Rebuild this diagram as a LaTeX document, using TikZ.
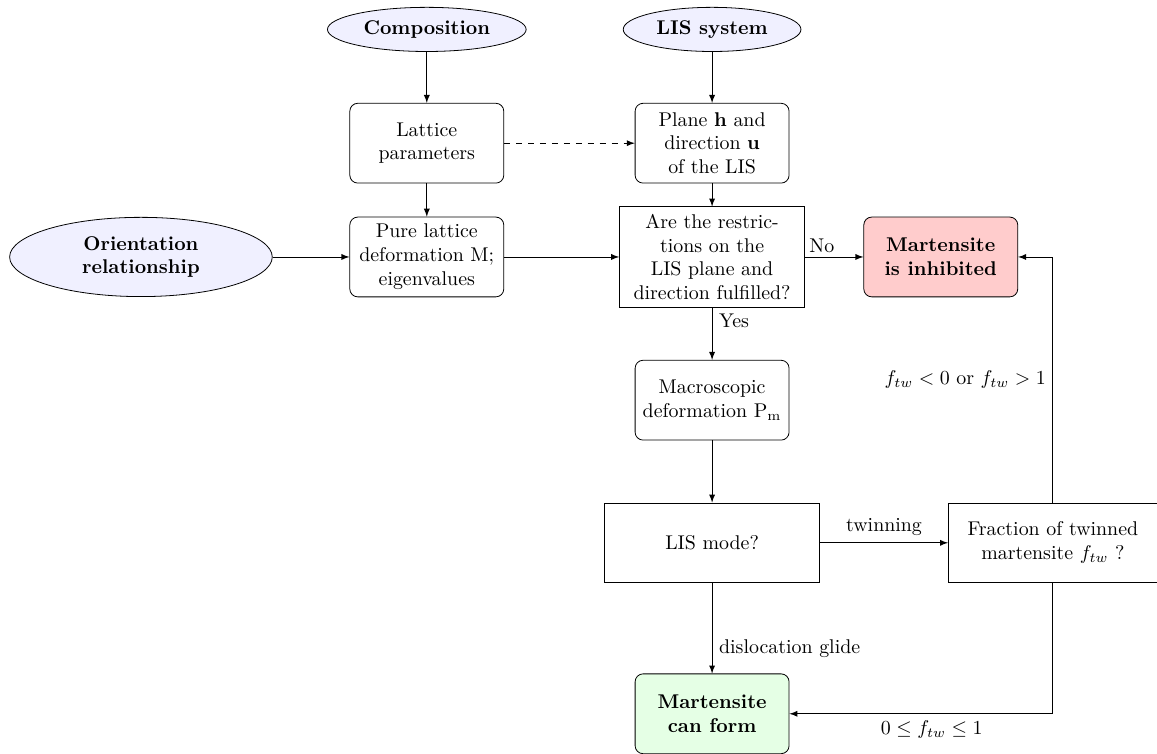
\documentclass[tikz,border=0pt]{standalone}
\usepackage{amsmath,amssymb}
\usepackage{xcolor}
\usepackage{tikz}
\usetikzlibrary{arrows.meta}
\usetikzlibrary{arrows,positioning,shapes,shapes.geometric,calc}
\tikzset{
	>=latex,
	block/.style = {
			rectangle,
			draw,
			rounded corners,
			align           = center,
			minimum width   = 2.72cm,
			minimum height  = 1.41cm,
			inner sep       = 2pt,
		},
	decision/.style = {
			rectangle,
			draw,
			align           = center,
			minimum height  = 1.41cm,
			inner sep       = 2pt,
		},
	input/.style = {
			ellipse,
			draw,
			fill            = blue!6,
			align           = center,
			font            = \bfseries,
			inner sep       = 1pt,
		},
	stopbox/.style = {block, fill = red!20, font = \bfseries},
	goodbox/.style = {block, fill = green!10, font = \bfseries},
}

\begin{document}
\begin{tikzpicture}
		\useasboundingbox (0,0) rectangle (20.44,13.32);

		% inputs
		\node[input, minimum width=3.51cm, minimum height=0.78cm] (Composition) at (7.54,12.80) {Composition};
		\node[input, minimum width=3.14cm, minimum height=0.78cm] (LIS) at (12.58,12.80) {LIS system};
		\node[input, minimum width=4.64cm, minimum height=1.40cm] (Orientation) at (2.49,8.78) {Orientation\\relationship};

		% steps
		\node[block] (Lattice) at (7.54,10.79) {Lattice\\parameters};
		\node[block] (Plane) at (12.58,10.79) {Plane $\mathbf{h}$ and\\direction $\mathbf{u}$\\of the LIS};
		\node[block] (Pure) at (7.54,8.78) {Pure lattice\\deformation M;\\eigenvalues};
		\node[decision, minimum width=3.27cm, minimum height=1.77cm] (Restrictions) at (12.58,8.78)
		{Are the restric-\\tions on the\\LIS plane and\\direction fulfilled?};
		\node[stopbox] (Inhibited) at (16.62,8.78) {Martensite\\is inhibited};
		\node[block] (Macro) at (12.58,6.25) {Macroscopic\\deformation $\mathrm{P_m}$};
		\node[decision, minimum width=3.80cm] (Mode) at (12.58,3.73) {LIS mode?};
		\node[decision, minimum width=3.69cm] (Fraction) at (18.60,3.73) {Fraction of twinned\\martensite $f_{tw}$ ?};
		\node[goodbox] (Form) at (12.58,0.71) {Martensite\\can form};

		% connections
		\draw[->] (Composition) -- (Lattice);
		\draw[->] (LIS) -- (Plane);
		\draw[->, dashed] (Lattice) -- (Plane);
		\draw[->] (Lattice) -- (Pure);
		\draw[->] (Plane) -- (Restrictions);
		\draw[->] (Orientation) -- (Pure);
		\draw[->] (Pure) -- (Restrictions);
		\draw[->] (Restrictions) -- (Inhibited) node[pos=0, above right, inner sep=2pt] {No};
		\draw[->] (Restrictions) -- (Macro) node[pos=0.25, right] {Yes};
		\draw[->] (Macro) -- (Mode);
		\draw[->] (Mode) -- (Fraction) node[midway, above] {twinning};
		\draw[->] (Mode) -- (Form) node[pos=0.72, right] {dislocation glide};
		\draw[->] (Fraction.north) |- (Inhibited.east)
		node[pos=0.25, left] {$f_{tw} < 0$ or $f_{tw} > 1$};
		\draw[->] (Fraction.south) |- (Form.east)
		node[pos=0.73, below] {$0 \leq f_{tw} \leq 1$};
	\end{tikzpicture}
\end{document}
